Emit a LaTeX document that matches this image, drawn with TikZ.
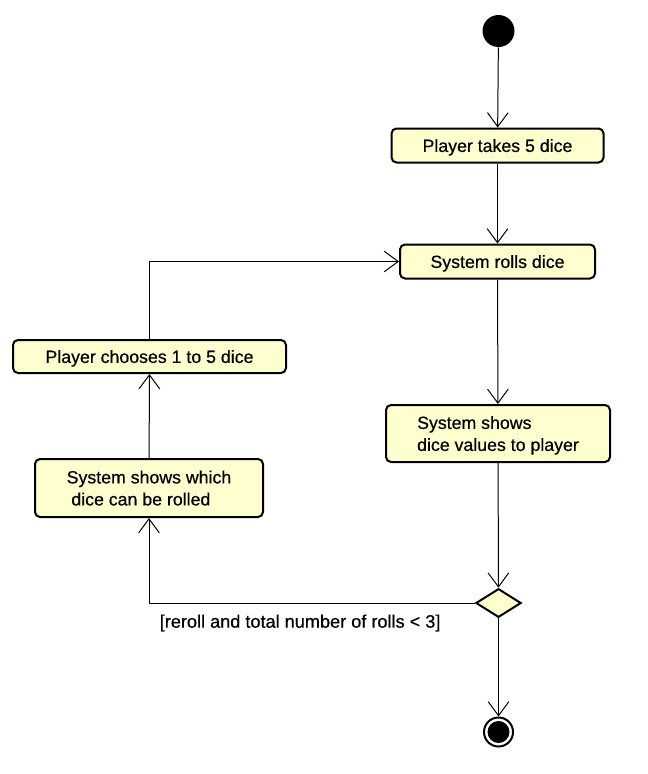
\documentclass[tikz,border=0pt]{standalone}
\usepackage{fontspec}
\setmainfont[FakeBold=0.5]{Liberation Sans}
\usetikzlibrary{arrows.meta,shapes.geometric}
\definecolor{actfill}{HTML}{FEFECE}
\tikzset{
  act/.style={draw=black, fill=actfill, rounded corners=3.75pt, line width=1.5pt, inner sep=0pt, align=center,
    text depth=0pt, font=\fontsize{13.3}{16.5}\selectfont},
  arr/.style={line width=0.75pt, -{Straight Barb[length=10.5pt, width=15.5pt, line width=0.75pt]}},
  guard/.style={font=\fontsize{13.6}{16.5}\selectfont, inner sep=0pt}
}
\begin{document}
\begin{tikzpicture}[x=0.75pt, y=-0.75pt]
\useasboundingbox (0,0) rectangle (647,774);
% start
\node[circle, fill=black, minimum size=24pt, inner sep=0pt] (start) at (498.5,31) {};
% activities
\node[act, minimum width=159pt, minimum height=25.5pt] (b1) at (497.5,145.5) {Player takes 5 dice};
\node[act, minimum width=146.25pt, minimum height=25.5pt] (b2) at (497.5,261.5) {System rolls dice};
\node[act, minimum width=168pt, minimum height=42.75pt, align=left] (b3) at (498,433.5) {System shows\\dice values to player};
\node[act, minimum width=204.75pt, minimum height=24.75pt] (b4) at (149.5,356.5) {Player chooses 1 to 5 dice};
\node[act, minimum width=171pt, minimum height=43.5pt, align=left] (b5) at (149,488) {System shows which\\\hspace*{3.5pt}dice can be rolled};
% decision
\node[diamond, draw=black, fill=actfill, line width=1.5pt, inner sep=0pt, minimum width=34pt, minimum height=21.5pt] (dec) at (498.5,603) {};
% end
\node[circle, draw=black, fill=white, line width=1.5pt, minimum size=21.75pt, inner sep=0pt,
  path picture={\fill[black] (path picture bounding box.center) circle (8.25pt);}] (end) at (498.5,732) {};
% connectors
\draw[arr] (start) -- (b1);
\draw[arr] (b1) -- (b2);
\draw[arr] (b2) -- (b3);
\draw[arr] (b3) -- (dec);
\draw[arr] (dec) -- (end);
\draw[arr] (dec.west) -| (b5.south);
\draw[arr] (b5) -- (b4);
\draw[arr] (b4.north) |- (b2.west);
% guard
\node[guard, anchor=west] (g) at (159.5,623) {[reroll and total number of rolls < 3]};
\end{tikzpicture}
\end{document}
